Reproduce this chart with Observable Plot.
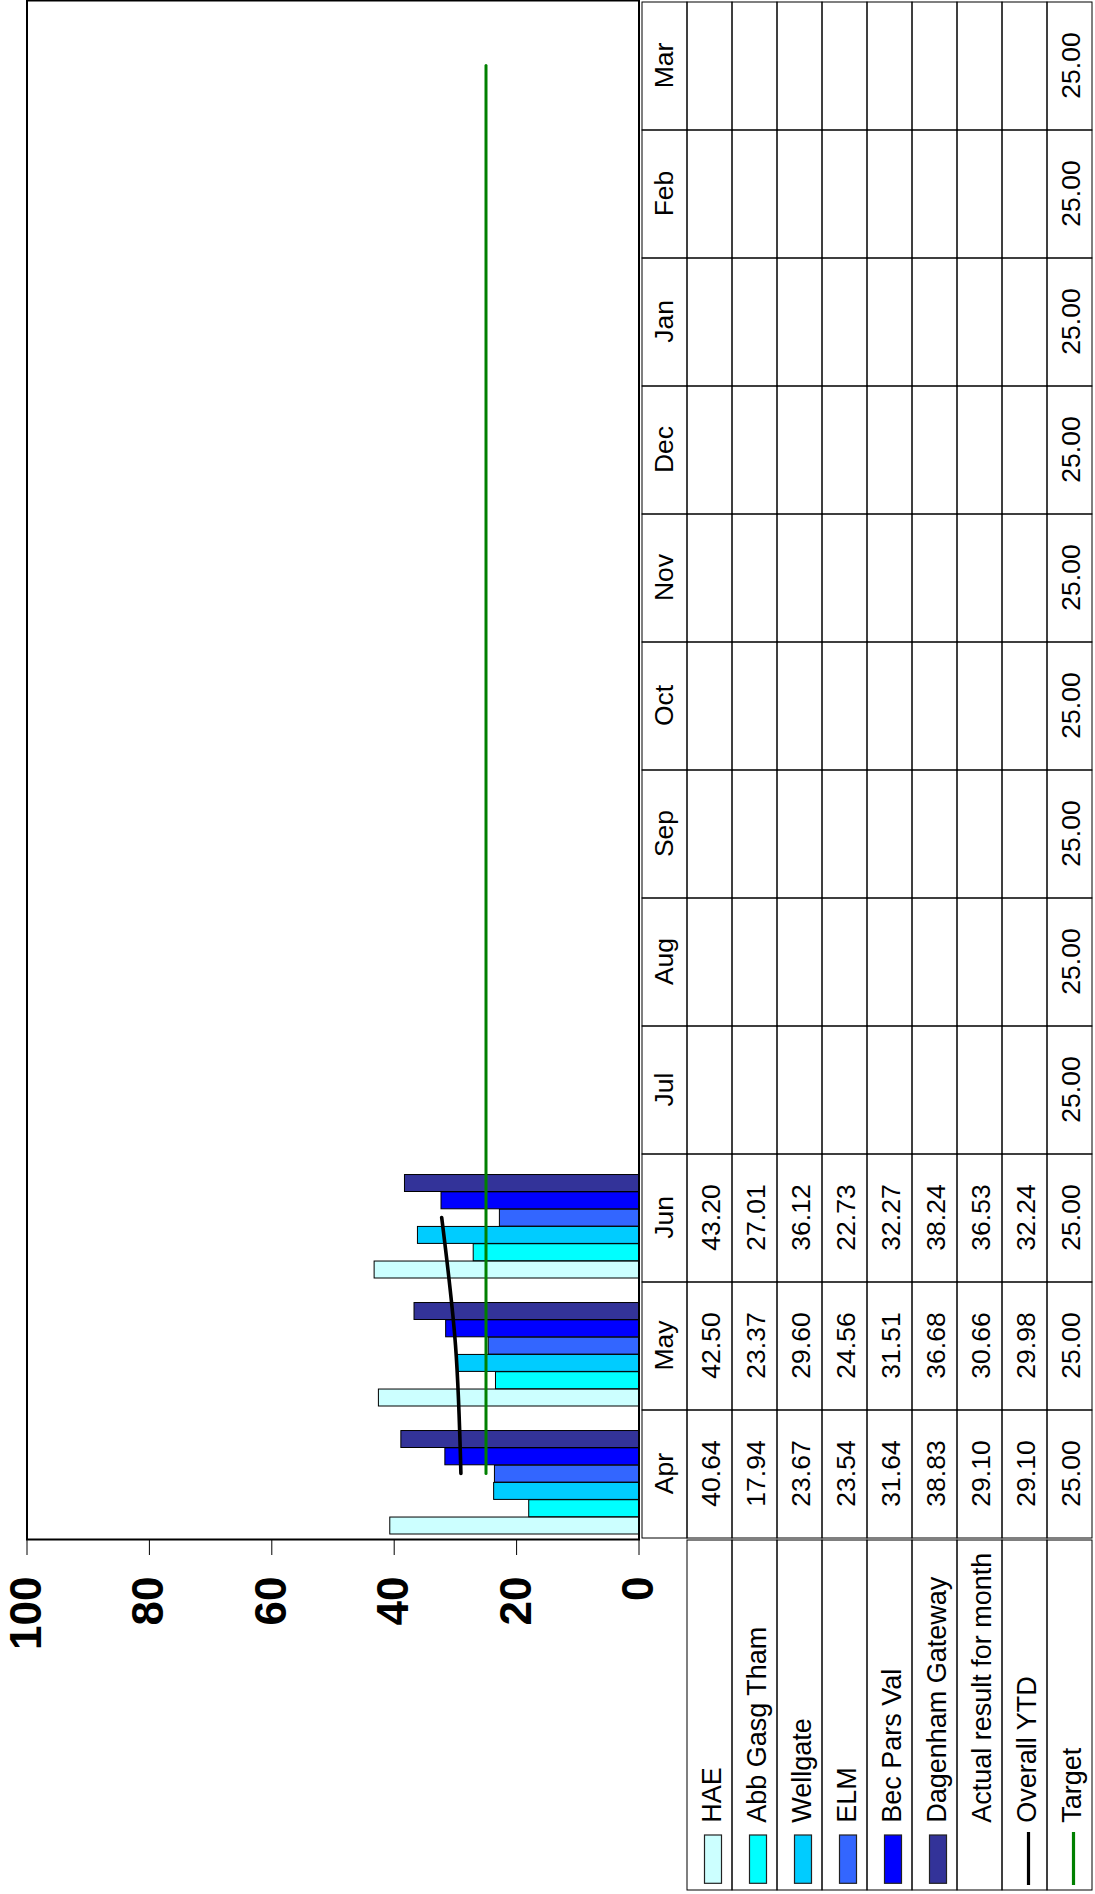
<!DOCTYPE html>
<html>
<head>
<meta charset="utf-8">
<script src="https://cdn.jsdelivr.net/npm/d3@7"></script>
<script src="https://cdn.jsdelivr.net/npm/@observablehq/plot@0.6"></script>
<style>
html, body { margin: 0; padding: 0; background: #fff; overflow: hidden; }
#rot {
  position: absolute; left: 0; top: 0; width: 1894px; height: 1095px;
  transform-origin: 0 0; transform: translate(0, 1894px) rotate(-90deg);
  font-family: "Liberation Sans", Arial, sans-serif; background: #fff;
}
#rot svg { display: block; }
#chart { position: relative; z-index: 2; }
#bottom { display: flex; position: relative; z-index: 1; }
</style>
</head>
<body>
<div id="rot">
  <div id="chart"></div>
  <div id="bottom"><div id="legend"></div><div id="table"></div></div>
</div>
<script>
// ---------- data ----------
const months = ["Apr", "May", "Jun", "Jul", "Aug", "Sep", "Oct", "Nov", "Dec", "Jan", "Feb", "Mar"];
const seriesNames = ["HAE", "Abb Gasg Tham", "Wellgate", "ELM", "Bec Pars Val", "Dagenham Gateway"];
const seriesColors = ["#CCFFFF", "#00FFFF", "#00CCFF", "#3366FF", "#0000FF", "#333399"];
const hae = [40.64, 42.50, 43.20];
const abbGasgTham = [17.94, 23.37, 27.01];
const wellgate = [23.67, 29.60, 36.12];
const elm = [23.54, 24.56, 22.73];
const becParsVal = [31.64, 31.51, 32.27];
const dagenhamGateway = [38.83, 36.68, 38.24];
const actualResult = [29.10, 30.66, 36.53];
const overallYTD = [29.10, 29.98, 32.24];
const target = [25.00, 25.00, 25.00, 25.00, 25.00, 25.00, 25.00, 25.00, 25.00, 25.00, 25.00, 25.00];
const lineNames = ["Overall YTD", "Target"];
const lineColors = ["#000000", "#008000"];
const yTicks = [0, 20, 40, 60, 80, 100];

const seriesValues = [hae, abbGasgTham, wellgate, elm, becParsVal, dagenhamGateway];
const rowNames = [...seriesNames, "Actual result for month", ...lineNames];
const rowValues = [...seriesValues, actualResult, overallYTD, target];
const toRecords = (vals) => vals.map((v, i) => ({month: months[i], value: v}));

const FONT = "Liberation Sans, Arial, sans-serif";
const HEADER = "__header";

// ---------- main chart ----------
const W = 1894, plotLeft = 354;
const catW = (W - plotLeft) / months.length;
const inner = d3.scaleBand().domain(seriesNames).range([4, 107.8]);

const barMarks = seriesNames.map((s, i) => Plot.barY(toRecords(seriesValues[i]), {
  x: "month", y: "value",
  fill: seriesColors[i], stroke: "black", strokeWidth: 1,
  insetLeft: inner(s), insetRight: catW - inner(s) - inner.bandwidth()
}));

const chart = Plot.plot({
  width: W, height: 639,
  marginLeft: plotLeft, marginRight: 0, marginTop: 26.5, marginBottom: 0.5,
  style: {fontFamily: FONT, background: "transparent", color: "black", overflow: "visible"},
  x: {type: "band", domain: months, padding: 0, axis: null},
  y: {domain: [0, 100], axis: null},
  marks: [
    ...barMarks,
    Plot.lineY(toRecords(overallYTD), {x: "month", y: "value", stroke: lineColors[0], strokeWidth: 3.6, curve: "catmull-rom"}),
    Plot.lineY(toRecords(target), {x: "month", y: "value", stroke: lineColors[1], strokeWidth: 3}),
    Plot.frame({stroke: "black", strokeWidth: 2, insetRight: 1}),
    Plot.axisY({ticks: yTicks, tickSize: 15, tickPadding: 22, fontSize: 44, fontWeight: "bold", label: null, stroke: "black"})
  ]
});
document.getElementById("chart").append(chart);

// ---------- data table ----------
const gridCells = [];
for (const r of [HEADER, ...rowNames]) for (const m of months) gridCells.push({row: r, month: m});
const tableValues = [];
rowNames.forEach((r, j) => rowValues[j].forEach((v, i) => tableValues.push({row: r, month: months[i], text: v.toFixed(2)})));

const table = Plot.plot({
  width: W - plotLeft, height: 456,
  marginLeft: 0, marginRight: 0, marginTop: 0, marginBottom: 0,
  style: {fontFamily: FONT, background: "transparent", color: "black", overflow: "visible"},
  x: {type: "band", domain: months, padding: 0, axis: null},
  y: {type: "band", domain: [HEADER, ...rowNames], padding: 0, axis: null},
  marks: [
    Plot.cell(gridCells, {x: "month", y: "row", fill: "none", stroke: "black", strokeWidth: 1}),
    Plot.text(months, {x: (d) => d, y: () => HEADER, text: (d) => d, fontSize: 26.5, fill: "black"}),
    Plot.text(tableValues, {x: "month", y: "row", text: "text", fontSize: 26.5, dy: 1.5, fill: "black"})
  ]
});
document.getElementById("table").append(table);

// ---------- legend column ----------
const swatches = seriesNames.map((s, i) => ({row: s, color: seriesColors[i]}));
const lineSwatches = lineNames.map((s, i) => ({row: s, color: lineColors[i]}));
const legend = Plot.plot({
  width: plotLeft, height: 456,
  marginLeft: 4, marginRight: 0, marginTop: 0, marginBottom: 0,
  style: {fontFamily: FONT, background: "transparent", color: "black", overflow: "visible"},
  y: {type: "band", domain: [HEADER, ...rowNames], padding: 0, axis: null},
  color: {type: "identity"},
  marks: [
    Plot.cell(rowNames, {y: (d) => d, fill: "none", stroke: "black", strokeWidth: 1}),
    Plot.cell(swatches, {y: "row", fill: "color", stroke: "#222", strokeWidth: 1.2,
      insetLeft: 6.7, insetRight: 295, insetTop: 17.5, insetBottom: 10.5}),
    Plot.ruleY(lineSwatches, {y: "row", stroke: "color", strokeWidth: 3.2, insetLeft: 5, insetRight: 292, dy: 3.5}),
    Plot.text(rowNames, {y: (d) => d, text: (d) => d, frameAnchor: "left", textAnchor: "start", dx: 66.7, dy: 2, fontSize: 27, fill: "black"})
  ]
});
document.getElementById("legend").append(legend);
</script>
</body>
</html>
